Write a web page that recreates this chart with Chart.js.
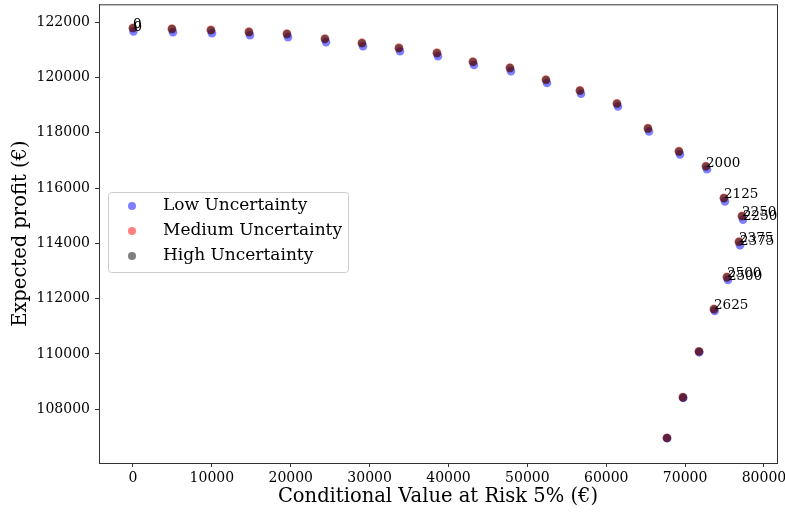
<!DOCTYPE html>
<html>
<head>
<meta charset="utf-8">
<script src="https://cdn.jsdelivr.net/npm/chart.js@4"></script>
<style>
  body { margin: 0; background: #fff; }
</style>
</head>
<body>
<canvas id="chart" width="785" height="514"></canvas>
<script>
// CVaR (x) and expected profit (y) per uncertainty level
const lowCvar = [60, 5070, 10010, 14830, 19650, 24470, 29160, 33850, 38670, 43230, 47920, 52490, 56800, 61490, 65420, 69350, 72770, 75050, 77340, 76960, 75430, 73750, 71800, 69760, 67720];
const lowProfit = [121670, 121640, 121600, 121530, 121460, 121280, 121130, 120950, 120770, 120450, 120230, 119800, 119410, 118950, 118050, 117220, 116680, 115520, 114860, 113930, 112680, 111560, 110060, 108410, 106950];

const medCvar = [-20, 4930, 9870, 14690, 19510, 24330, 29020, 33710, 38530, 43090, 47780, 52350, 56660, 61350, 65280, 69210, 72630, 74910, 77200, 76820, 75300, 73650, 71750, 69720, 67690];
const medProfit = [121800, 121770, 121730, 121660, 121590, 121410, 121260, 121080, 120900, 120580, 120360, 119930, 119540, 119070, 118170, 117340, 116800, 115650, 115000, 114070, 112790, 111630, 110100, 108440, 106970];

const highCvar = [0, 4945, 9890, 14710, 19525, 24340, 29030, 33720, 38540, 43110, 47800, 52360, 56670, 61360, 65290, 69220, 72650, 74930, 77210, 76830, 75310, 73660, 71760, 69730, 67700];
const highProfit = [121780, 121750, 121710, 121640, 121570, 121390, 121240, 121060, 120880, 120560, 120340, 119910, 119520, 119050, 118150, 117320, 116780, 115630, 114980, 114050, 112770, 111620, 110090, 108430, 106960];

// which points carry a text note, and the note text
const noteIndex = [0, 16, 17, 18, 19, 20, 21];
const noteText = ["0", "2000", "2125", "2250", "2375", "2500", "2625"];
const lowNoteIndex = [0, 18, 19, 20];
const lowNoteText = ["0", "2250", "2375", "2500"];

const xTicks = [0, 10000, 20000, 30000, 40000, 50000, 60000, 70000, 80000];
const yTicks = [108000, 110000, 112000, 114000, 116000, 118000, 120000, 122000];

const serif = "'DejaVu Serif', serif";

function pts(xs, ys) {
    return xs.map((x, i) => ({ x: x, y: ys[i] }));
}

const notes = {
    id: "notes",
    afterDatasetsDraw(chart) {
        const ctx = chart.ctx;
        const xs = chart.scales.x, ys = chart.scales.y;
        ctx.save();
        ctx.font = "13.5px " + serif;
        ctx.fillStyle = "#000";
        ctx.textAlign = "left";
        ctx.textBaseline = "alphabetic";
        const write = (cx, cy, idx, txt) => {
            idx.forEach((i, k) => {
                ctx.fillText(txt[k], xs.getPixelForValue(cx[i]), ys.getPixelForValue(cy[i]));
            });
        };
        write(lowCvar, lowProfit, lowNoteIndex, lowNoteText);
        write(highCvar, highProfit, noteIndex, noteText);
        ctx.restore();
    }
};

const frame = {
    id: "frame",
    afterDraw(chart) {
        const ctx = chart.ctx;
        const a = chart.chartArea;
        ctx.save();
        ctx.strokeStyle = "#333";
        ctx.lineWidth = 1;
        ctx.strokeRect(a.left + 0.5, a.top + 0.5, a.right - a.left, a.bottom - a.top);

        // legend box inside the plot
        const bx = 108, by = 192, bw = 240, bh = 80;
        ctx.fillStyle = "rgba(255,255,255,0.8)";
        ctx.strokeStyle = "#ccc";
        ctx.beginPath();
        ctx.roundRect(bx + 0.5, by + 0.5, bw, bh, 3);
        ctx.fill();
        ctx.stroke();
        ctx.font = "17px " + serif;
        ctx.textBaseline = "middle";
        ctx.textAlign = "left";
        chart.data.datasets.forEach((ds, i) => {
            const cy = by + 14 + i * 25;
            ctx.fillStyle = ds.backgroundColor;
            ctx.beginPath();
            ctx.arc(bx + 24, cy, 4, 0, Math.PI * 2);
            ctx.fill();
            ctx.fillStyle = "#000";
            ctx.fillText(ds.label, bx + 55, cy);
        });
        ctx.restore();
    }
};

new Chart("chart", {
    type: "scatter",
    data: {
        datasets: [{
            label: "Low Uncertainty",
            data: pts(lowCvar, lowProfit),
            backgroundColor: "rgba(0,0,255,0.5)",
            borderWidth: 0,
            pointRadius: 4.3,
            order: 3
        }, {
            label: "Medium Uncertainty",
            data: pts(medCvar, medProfit),
            backgroundColor: "rgba(255,0,0,0.5)",
            borderWidth: 0,
            pointRadius: 4.3,
            order: 2
        }, {
            label: "High Uncertainty",
            data: pts(highCvar, highProfit),
            backgroundColor: "rgba(0,0,0,0.5)",
            borderWidth: 0,
            pointRadius: 4.3,
            order: 1
        }]
    },
    options: {
        responsive: false,
        animation: false,
        layout: { padding: { top: 2, right: 8, left: 0, bottom: 0 } },
        plugins: {
            legend: { display: false },
            tooltip: { enabled: false }
        },
        scales: {
            x: {
                type: "linear",
                min: -4310,
                max: 81650,
                afterFit: s => { s.height = 51; s.paddingLeft = 0; s.paddingRight = 0; },
                afterBuildTicks: s => { s.ticks = xTicks.map(v => ({ value: v })); },
                ticks: { color: "#000", font: { family: serif, size: 14 }, padding: 3, maxRotation: 0, callback: v => String(v) },
                grid: { drawOnChartArea: false, tickLength: 4, color: "#333" },
                border: { color: "#333" },
                title: {
                    display: true,
                    text: "Conditional Value at Risk 5% (€)",
                    color: "#000",
                    font: { family: serif, size: 19.5 },
                    padding: { top: 0, bottom: 5 }
                }
            },
            y: {
                type: "linear",
                min: 106057,
                max: 122648,
                afterFit: s => { s.width = 99; s.paddingTop = 0; s.paddingBottom = 0; },
                afterBuildTicks: s => { s.ticks = yTicks.map(v => ({ value: v })); },
                ticks: { color: "#000", font: { family: serif, size: 14 }, padding: 5, callback: v => String(v) },
                grid: { drawOnChartArea: false, tickLength: 4, color: "#333" },
                border: { color: "#333" },
                title: {
                    display: true,
                    text: "Expected profit (€)",
                    color: "#000",
                    font: { family: serif, size: 19.5 },
                    padding: { top: 9, bottom: 0 }
                }
            }
        }
    },
    plugins: [notes, frame]
});
</script>
</body>
</html>
